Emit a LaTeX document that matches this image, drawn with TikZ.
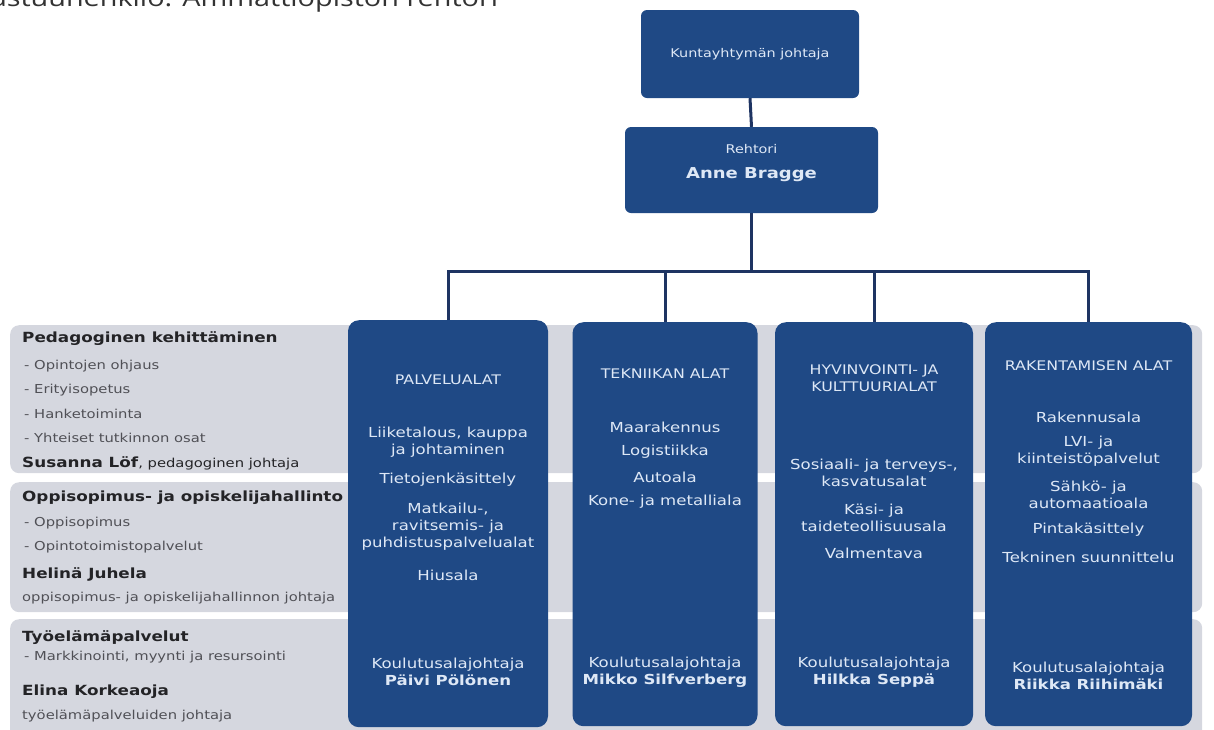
\documentclass[tikz,border=0pt]{standalone}
\usepackage{fontspec}
\setmainfont{DejaVu Sans}[FakeStretch=1.2]
\newfontfamily\headfont{Open Sans}[FakeStretch=1.2]
\usepackage{tikz}
\usetikzlibrary{positioning}
\usepackage{xcolor}
\definecolor{obblue}{RGB}{31,73,133}
\definecolor{obnavy}{RGB}{30,52,98}
\definecolor{obtext}{RGB}{222,232,246}
\definecolor{obgray}{RGB}{213,215,223}
\definecolor{obdark}{RGB}{35,35,38}
\definecolor{obmid}{RGB}{80,80,86}
\tikzstyle{conn} = [line width=3pt, draw=obnavy]
\tikzstyle{topbox} = [rectangle, rounded corners=6pt, fill=obblue, inner sep=0pt]
\tikzstyle{colbox} = [rectangle, rounded corners=11pt, fill=obblue, inner sep=0pt]
\tikzstyle{band} = [rectangle, rounded corners=9pt, fill=obgray, inner sep=0pt, anchor=north west]
\tikzstyle{boxtext} = [text=obtext, align=center, inner sep=0pt, font=\fontsize{12}{25}\selectfont]
\tikzstyle{coltext} = [text=obtext, align=center, inner sep=0pt, font=\fontsize{13.8}{17}\selectfont]
\tikzstyle{sidehead} = [anchor=base west, inner sep=0pt, text=obdark, font=\fontsize{14}{16}\bfseries\selectfont]
\tikzstyle{sideitem} = [anchor=base west, inner sep=0pt, text=obmid, font=\fontsize{12.3}{14}\selectfont]

\begin{document}
\begin{tikzpicture}[x=1pt,y=-1pt]
\useasboundingbox (0,0) rectangle (1214,729);
\clip (0,0) rectangle (1214,729);

% title line, cut at the top edge
\node[anchor=base west, inner sep=0pt, text=black!80, font=\headfont\fontsize{24}{26}\selectfont] (vastuu) at (-26,6) {Vastuuhenkilö: Ammattiopiston rehtori};

% grey bands behind the columns
\node[band, minimum width=1192, minimum height=148] (band1) at (10,325) {};
\node[band, minimum width=1192, minimum height=130] (band2) at (10,482) {};
\node[band, minimum width=1192, minimum height=140] (band3) at (10,619) {};

% top of the chart
\node[topbox, minimum width=218, minimum height=88] (kj) at (750,54) {};
\node[boxtext] (kjtext) at (750,54) {Kuntayhtymän johtaja};
\node[topbox, minimum width=253, minimum height=86] (rehtori) at (751.5,170) {};
\node[boxtext] (rehtoritext) at (751.5,163) {Rehtori\\\fontsize{15}{16}\selectfont\bfseries Anne Bragge};

% columns
\node[colbox, minimum width=200, minimum height=407, anchor=north] (pal) at (448,320) {};
\node[colbox, minimum width=185, minimum height=404, anchor=north] (tek) at (665,322) {};
\node[colbox, minimum width=198, minimum height=404, anchor=north] (hyv) at (874,322) {};
\node[colbox, minimum width=207, minimum height=404, anchor=north] (rak) at (1088.5,322) {};

% connectors
\coordinate (bus) at (752,271);
\draw[conn] (kj.south) -- (rehtori.north);
\draw[conn] (rehtori.south) -- (rehtori.south |- bus);
\draw[conn] (pal.north) |- (rak.north |- bus) -- (rak.north);
\draw[conn] (tek.north |- bus) -- (tek.north);
\draw[conn] (hyv.north |- bus) -- (hyv.north);

% Palvelualat
\node[coltext] (palhead) at (448,380) {\fontsize{13.2}{15}\selectfont PALVELUALAT};
\node[coltext] (pal1) at (448,442) {Liiketalous, kauppa\\ja johtaminen};
\node[coltext] (pal2) at (448,480) {Tietojenkäsittely};
\node[coltext] (pal3) at (448,527) {Matkailu-,\\ravitsemis- ja\\puhdistuspalvelualat};
\node[coltext] (pal4) at (448,575) {Hiusala};
\node[coltext] (paljoht) at (448,672) {Koulutusalajohtaja\\\bfseries Päivi Pölönen};

% Tekniikan alat
\node[coltext] (tekhead) at (665,374) {\fontsize{13.2}{15}\selectfont TEKNIIKAN ALAT};
\node[coltext] (tek1) at (665,427) {Maarakennus};
\node[coltext] (tek2) at (665,452) {Logistiikka};
\node[coltext] (tek3) at (665,477) {Autoala};
\node[coltext] (tek4) at (665,502) {Kone- ja metalliala};
\node[coltext] (tekjoht) at (665,672) {Koulutusalajohtaja\\\bfseries Mikko Silfverberg};

% Hyvinvointi- ja kulttuurialat
\node[coltext] (hyvhead) at (874,378) {\fontsize{13.2}{17}\selectfont HYVINVOINTI- JA\\\fontsize{13.2}{17}\selectfont KULTTUURIALAT};
\node[coltext] (hyv1) at (874,473) {Sosiaali- ja terveys-,\\kasvatusalat};
\node[coltext] (hyv2) at (874,518) {Käsi- ja\\taideteollisuusala};
\node[coltext] (hyv3) at (874,553) {Valmentava};
\node[coltext] (hyvjoht) at (874,672) {Koulutusalajohtaja\\\bfseries Hilkka Seppä};

% Rakentamisen alat
\node[coltext] (rakhead) at (1088.5,366) {\fontsize{13.2}{15}\selectfont RAKENTAMISEN ALAT};
\node[coltext] (rak1) at (1088.5,417) {Rakennusala};
\node[coltext] (rak2) at (1088.5,451) {LVI- ja\\kiinteistöpalvelut};
\node[coltext] (rak3) at (1088.5,495) {Sähkö- ja\\automaatioala};
\node[coltext] (rak4) at (1088.5,530) {Pintakäsittely};
\node[coltext] (rak5) at (1088.5,557) {Tekninen suunnittelu};
\node[coltext] (rakjoht) at (1088.5,676) {Koulutusalajohtaja\\\bfseries Riikka Riihimäki};

% side services
\node[sidehead] (ped) at (22,342) {Pedagoginen kehittäminen};
\node[sideitem] (ped1) at (24,369) {- Opintojen ohjaus};
\node[sideitem] (ped2) at (24,393) {- Erityisopetus};
\node[sideitem] (ped3) at (24,418) {- Hanketoiminta};
\node[sideitem] (ped4) at (24,442) {- Yhteiset tutkinnon osat};
\node[sidehead] (pedjoht) at (22,467) {Susanna Löf\mdseries\fontsize{12.3}{14}\selectfont, pedagoginen johtaja};

\node[sidehead] (opi) at (22,501) {Oppisopimus- ja opiskelijahallinto};
\node[sideitem] (opi1) at (24,526) {- Oppisopimus};
\node[sideitem] (opi2) at (24,550) {- Opintotoimistopalvelut};
\node[sidehead] (opijoht) at (22,578) {Helinä Juhela};
\node[sideitem] (opititle) at (22,601) {oppisopimus- ja opiskelijahallinnon johtaja};

\node[sidehead] (tyo) at (22,641) {Työelämäpalvelut};
\node[sideitem] (tyo1) at (24,660) {- Markkinointi, myynti ja resursointi};
\node[sidehead] (tyojoht) at (22,695) {Elina Korkeaoja};
\node[sideitem] (tyotitle) at (22,719) {työelämäpalveluiden johtaja};
\end{tikzpicture}
\end{document}
